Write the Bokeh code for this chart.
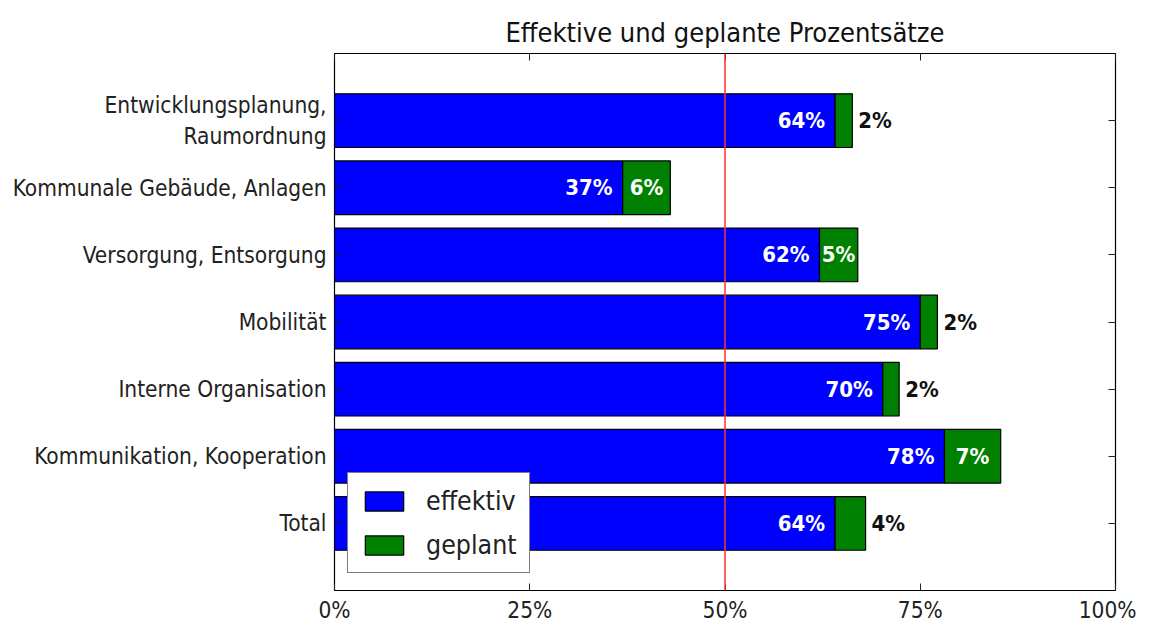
from bokeh.plotting import figure
from bokeh.models import ColumnDataSource, FixedTicker, LinearAxis, Span, Legend, LegendItem
from bokeh.core.properties import value
from bokeh.embed import file_html
from bokeh.resources import INLINE

categories = ["Entwicklungsplanung,\nRaumordnung", "Kommunale Gebäude, Anlagen",
              "Versorgung, Entsorgung", "Mobilität", "Interne Organisation",
              "Kommunikation, Kooperation", "Total"]
effektiv = [64.1, 36.9, 62.1, 75.0, 70.2, 78.1, 64.1]
geplant = [2.2, 6.1, 4.9, 2.2, 2.1, 7.2, 3.9]
eff_labels = ["64%", "37%", "62%", "75%", "70%", "78%", "64%"]
gep_labels = ["2%", "6%", "5%", "2%", "2%", "7%", "4%"]
x_ticks = [0, 25, 50, 75, 100]
x_tick_labels = ["0%", "25%", "50%", "75%", "100%"]

FONT = "DejaVu Sans Condensed"
n = len(categories)
ypos = [n - 1 - i for i in range(n)]
totals = [e + g for e, g in zip(effektiv, geplant)]

p = figure(width=1136, height=625, output_backend="svg", toolbar_location=None,
           x_range=(0, 100), y_range=(-1, n), min_border_left=334, min_border_right=21,
           min_border_top=53, min_border_bottom=35,
           title="Effektive und geplante Prozentsätze")
p.title.text_font = FONT
p.title.text_font_size = "27px"
p.title.text_font_style = "normal"
p.title.align = "center"
p.title.text_color = "#111"
p.title.standoff = 12
p.grid.visible = False
p.outline_line_color = "black"
p.outline_line_width = 1.2
p.background_fill_color = "white"

src = ColumnDataSource(dict(y=ypos, eff=effektiv, tot=totals, gep=geplant,
                            el=eff_labels, gl=gep_labels))
r1 = p.hbar(y="y", left=0, right="eff", height=0.8, source=src,
            fill_color="#0000FF", line_color="black", line_width=1.2)
r2 = p.hbar(y="y", left="eff", right="tot", height=0.8, source=src,
            fill_color="#008000", line_color="black", line_width=1.2)

p.add_layout(Span(location=50, dimension="height", line_color="#FF3030", line_width=1.5))

p.text(x="eff", y="y", text="el", source=src, text_align="right", text_baseline="middle",
       x_offset=-10, text_color="white", text_font=value(FONT), text_font_style="bold",
       text_font_size="22px")

inside = [i for i in range(n) if geplant[i] >= 4.5]
outside = [i for i in range(n) if geplant[i] < 4.5]
src_in = ColumnDataSource(dict(x=[effektiv[i] + geplant[i] / 2 for i in inside],
                               y=[ypos[i] for i in inside], t=[gep_labels[i] for i in inside]))
src_out = ColumnDataSource(dict(x=[totals[i] for i in outside],
                                y=[ypos[i] for i in outside], t=[gep_labels[i] for i in outside]))
p.text(x="x", y="y", text="t", source=src_in, text_align="center", text_baseline="middle",
       text_color="white", text_font=value(FONT), text_font_style="bold", text_font_size="22px")
p.text(x="x", y="y", text="t", source=src_out, text_align="left", text_baseline="middle",
       x_offset=6, text_color="#111", text_font=value(FONT), text_font_style="bold",
       text_font_size="22px")

# axes
xa = p.xaxis[0]
xa.ticker = FixedTicker(ticks=x_ticks)
xa.major_label_overrides = {t: l for t, l in zip(x_ticks, x_tick_labels)}
ya = p.yaxis[0]
ya.ticker = FixedTicker(ticks=ypos)
ya.major_label_overrides = {y: c for y, c in zip(ypos, categories)}
for ax in (xa, ya):
    ax.axis_line_color = None
    ax.major_tick_in = 7
    ax.major_tick_out = 0
    ax.minor_tick_line_color = None
    ax.major_label_text_font = FONT
    ax.major_label_text_font_size = "22.5px"
    ax.major_label_text_color = "#222"
    ax.major_tick_line_color = "#222"
xa.major_label_standoff = 6
ya.major_label_standoff = 8

ra = LinearAxis(ticker=FixedTicker(ticks=ypos), major_label_text_color=None,
                major_label_text_font_size="10px", major_label_standoff=0,
                axis_line_color=None, major_tick_in=7, major_tick_out=0,
                minor_tick_line_color=None, major_tick_line_color="#222")
ra.major_label_overrides = {y: "" for y in ypos}
ta = LinearAxis(ticker=FixedTicker(ticks=x_ticks), major_label_text_color=None,
                major_label_text_font_size="10px", major_label_standoff=0,
                axis_line_color=None, major_tick_in=7, major_tick_out=0,
                minor_tick_line_color=None, major_tick_line_color="#222")
ta.major_label_overrides = {t: "" for t in x_ticks}
p.add_layout(ra, "right")
p.add_layout(ta, "above")

legend = Legend(items=[LegendItem(label="effektiv", renderers=[r1]),
                       LegendItem(label="geplant", renderers=[r2])],
                location=(13, 17), glyph_width=48, glyph_height=24, label_standoff=18,
                padding=12, spacing=13, margin=0,
                label_text_font=FONT, label_text_font_size="26.5px", label_text_color="#222",
                border_line_color="black", border_line_width=1.2,
                background_fill_alpha=1.0)
p.add_layout(legend, "center")

open("out.html", "w").write(file_html(p, INLINE))
